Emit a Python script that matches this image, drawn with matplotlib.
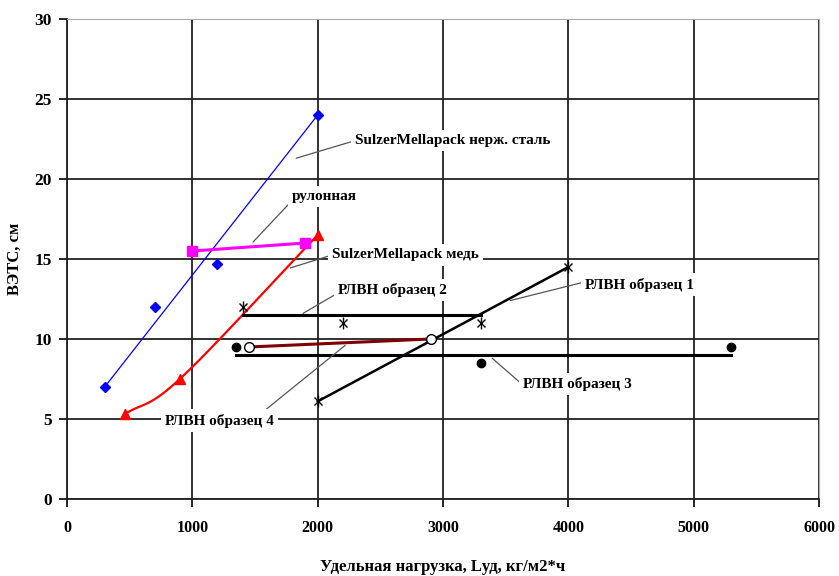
import numpy as np
import matplotlib.pyplot as plt

plt.rcParams['font.family'] = ['Liberation Serif', 'DejaVu Serif']
plt.rcParams['font.weight'] = 'bold'

# SulzerMellapack нерж. сталь
steel_x = [300, 700, 1200, 2000]
steel_y = [7.0, 12.0, 14.7, 24.0]
steel_fit_x = [300, 2000]
steel_fit_y = [7.0, 24.0]

# рулонная
roll_x = [1000, 1900]
roll_y = [15.5, 16.0]

# SulzerMellapack медь
cu_x = [460, 900, 2000]
cu_y = [5.3, 7.5, 16.5]

# РЛВН образец 1
s1_x = [2000, 4000]
s1_y = [6.1, 14.5]

# РЛВН образец 2
s2_x = [1400, 2200, 3300]
s2_y = [12.0, 11.0, 11.0]
s2_line_x = [1400, 3300]
s2_line_y = [11.5, 11.5]

# РЛВН образец 3
s3_x = [1350, 3300, 5300]
s3_y = [9.5, 8.5, 9.5]
s3_line_x = [1350, 5300]
s3_line_y = [9.0, 9.0]

# РЛВН образец 4
s4_x = [1450, 2900]
s4_y = [9.5, 10.0]


def smooth(xs, ys, n=40):
    # catmull-rom in roughly pixel-scaled space
    px = np.array(xs) / 1000 * 125.3
    py = np.array(ys) * 16
    pts = np.column_stack([px, py])
    pts = np.vstack([2 * pts[0] - pts[1], pts, 2 * pts[-1] - pts[-2]])
    out = []
    for i in range(1, len(pts) - 2):
        p0, p1, p2, p3 = pts[i - 1], pts[i], pts[i + 1], pts[i + 2]
        t = np.linspace(0, 1, n)[:, None]
        c = 0.5 * ((2 * p1) + (-p0 + p2) * t + (2 * p0 - 5 * p1 + 4 * p2 - p3) * t**2
                   + (-p0 + 3 * p1 - 3 * p2 + p3) * t**3)
        out.append(c)
    c = np.vstack(out)
    return c[:, 0] / 125.3 * 1000, c[:, 1] / 16


fig = plt.figure(figsize=(8.39, 5.76), dpi=100)
ax = fig.add_axes([0.0799, 0.1337, 0.8963, 0.8333])

ax.set_xlim(0, 6000)
ax.set_ylim(0, 30)
ax.set_xticks(range(0, 6001, 1000))
ax.set_yticks(range(0, 31, 5))
ax.grid(True, color='#222222', lw=1.3)
ax.set_axisbelow(True)
for s in ['top', 'right']:
    ax.spines[s].set_color('#aaaaaa')
for s in ['left', 'bottom']:
    ax.spines[s].set_color('#222222')
    ax.spines[s].set_linewidth(1.3)
ax.tick_params(direction='out', length=6, width=1.2)
ax.tick_params(axis='x', labelsize=11.5, pad=9)
ax.tick_params(axis='y', labelsize=12.5, pad=5)

ax.plot(steel_fit_x, steel_fit_y, color='blue', lw=0.9, zorder=3)
ax.plot(steel_x, steel_y, 'D', color='blue', ms=5.5, zorder=4)

ax.plot(roll_x, roll_y, color='magenta', lw=2.2, marker='s', ms=7, zorder=4)

cx, cy = smooth(cu_x, cu_y)
ax.plot(cx, cy, color='red', lw=1.6, zorder=3)
ax.plot(cu_x, cu_y, '^', color='red', ms=7, zorder=4)

ax.plot(s1_x, s1_y, color='black', lw=1.8, zorder=3)
for xs, ys in [(s1_x, s1_y), (s2_x, s2_y)]:
    ax.plot(xs, ys, 'x', color='black', ms=6, mew=1, zorder=4)
    ax.plot(xs, ys, '|', color='black', ms=8, mew=1, zorder=4)

ax.plot(s2_line_x, s2_line_y, color='black', lw=2.2, zorder=3)

ax.plot(s3_line_x, s3_line_y, color='black', lw=2.2, zorder=3)
ax.plot(s3_x, s3_y, 'o', color='black', ms=6, zorder=4)

ax.plot(s4_x, s4_y, color='#800000', lw=2.2, zorder=3)
ax.plot(s4_x, s4_y, 'o', mfc='white', mec='black', ms=7, zorder=4)

ax.set_xlabel('Удельная нагрузка, Lуд, кг/м2*ч', fontsize=12, fontweight='bold', labelpad=17)
ax.set_ylabel('ВЭТС, см', fontsize=12, fontweight='bold', labelpad=8)

box = dict(facecolor='white', edgecolor='none', pad=3)
labels = [
    ('SulzerMellapack нерж. сталь', (2298, 22.4), (1828, 21.3), (0, 0.5)),
    ('рулонная', (1796, 18.9), (1484, 16.06), (0, 0.2)),
    ('SulzerMellapack медь', (2115, 15.25), (1780, 14.44), (0, 0.5)),
    ('РЛВН образец 2', (2163, 13.06), (1883, 11.6), (0, 0.3)),
    ('РЛВН образец 1', (4134, 13.4), (3535, 12.4), (0, 0.7)),
    ('РЛВН образец 3', (3639, 7.2), (3392, 8.8), (0, 0.4)),
    ('РЛВН образец 4', (782, 4.9), (2219, 9.6), (0.88, 1.0)),
]
for txt, tpos, ppos, rp in labels:
    ax.annotate(txt, xy=ppos, xytext=tpos, fontsize=11, va='center', ha='left',
                bbox=box, zorder=5,
                arrowprops=dict(arrowstyle='-', color='#555555', lw=0.9,
                                shrinkA=0, shrinkB=0, relpos=rp))

fig.savefig('out.png', dpi=100)
